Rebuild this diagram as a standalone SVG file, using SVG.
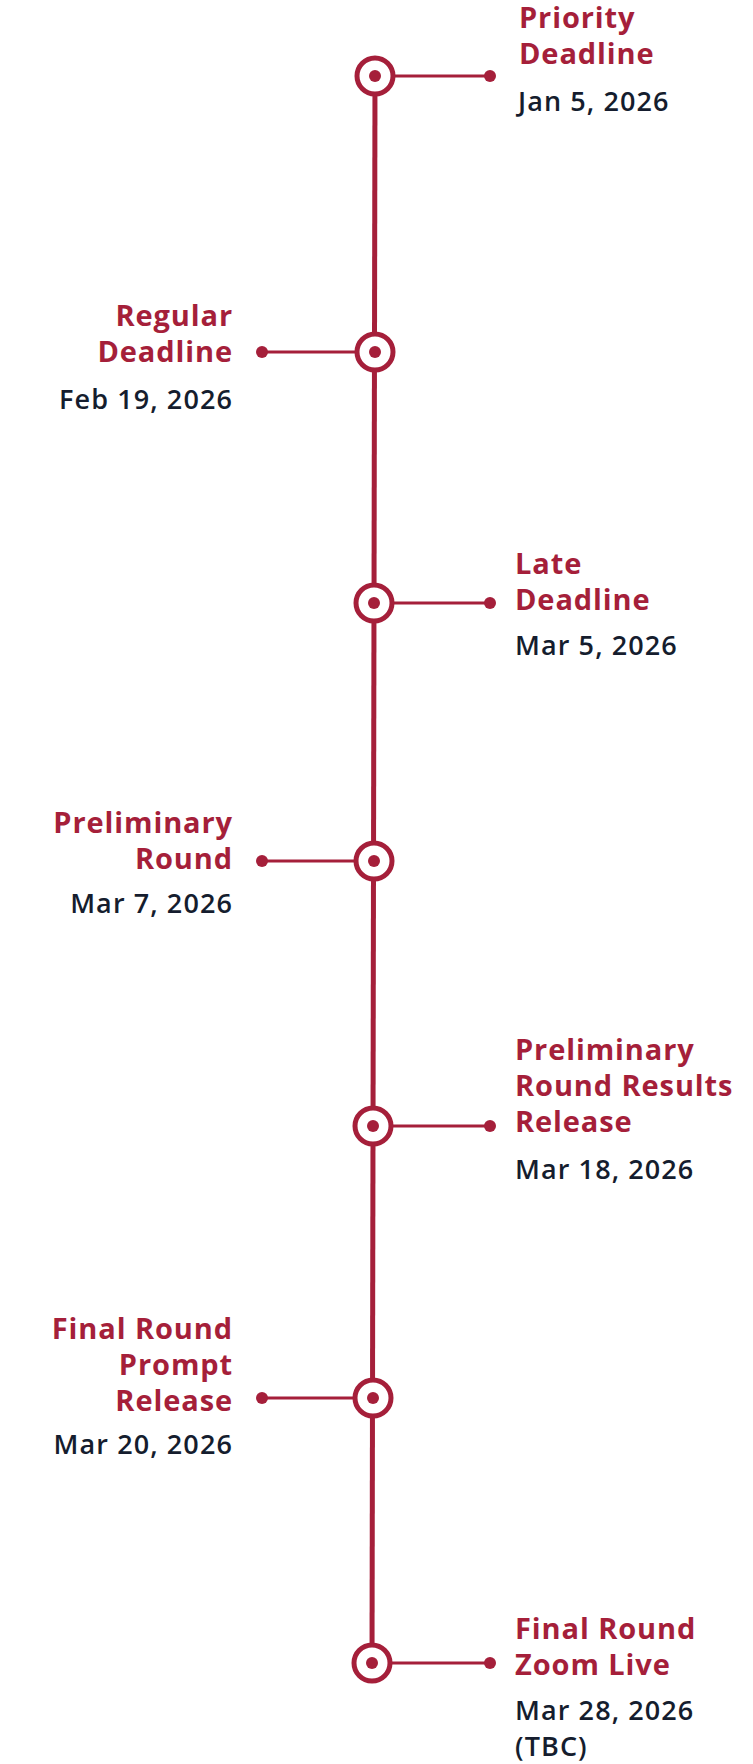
<svg xmlns="http://www.w3.org/2000/svg" width="753" height="1764" viewBox="0 0 753 1764">
<style>
.t{font-family:"Open Sans","Liberation Sans",sans-serif;font-weight:700;font-size:29px;fill:#A51F3A;letter-spacing:0.9px}
.d{font-family:"Open Sans","Liberation Sans",sans-serif;font-weight:600;font-size:27px;fill:#151D2E;letter-spacing:1.1px}
.e{text-anchor:end}
.ring{fill:#fff;stroke:#A51F3A;stroke-width:5}
.dot{fill:#A51F3A}
.con{stroke:#A51F3A;stroke-width:3;fill:none}
</style>
<rect width="753" height="1764" fill="#fff"/>
<g id="connectors">
<line x1="375" y1="76" x2="372" y2="1663" stroke="#A51F3A" stroke-width="5"/>
<line class="con" x1="375" y1="76" x2="490" y2="76"/>
<line class="con" x1="375" y1="352" x2="262" y2="352"/>
<line class="con" x1="374" y1="603" x2="490" y2="603"/>
<line class="con" x1="374" y1="861" x2="262" y2="861"/>
<line class="con" x1="373" y1="1126" x2="490" y2="1126"/>
<line class="con" x1="373" y1="1398" x2="262" y2="1398"/>
<line class="con" x1="372" y1="1663" x2="490" y2="1663"/>
<circle class="dot" cx="490" cy="76" r="6"/>
<circle class="dot" cx="262" cy="352" r="6"/>
<circle class="dot" cx="490" cy="603" r="6"/>
<circle class="dot" cx="262" cy="861" r="6"/>
<circle class="dot" cx="490" cy="1126" r="6"/>
<circle class="dot" cx="262" cy="1398" r="6"/>
<circle class="dot" cx="490" cy="1663" r="6"/>
</g>
<g id="n1">
<circle class="ring" cx="375" cy="76" r="18"/><circle class="dot" cx="375" cy="76" r="6"/>
<text class="t" x="519" y="28">Priority</text>
<text class="t" x="519" y="64">Deadline</text>
<text class="d" x="518" y="111">Jan 5, 2026</text>
</g>
<g id="n2">
<circle class="ring" cx="375" cy="352" r="18"/><circle class="dot" cx="375" cy="352" r="6"/>
<text class="t e" x="233" y="326">Regular</text>
<text class="t e" x="233" y="362">Deadline</text>
<text class="d e" x="233" y="409">Feb 19, 2026</text>
</g>
<g id="n3">
<circle class="ring" cx="374" cy="603" r="18"/><circle class="dot" cx="374" cy="603" r="6"/>
<text class="t" x="515" y="574">Late</text>
<text class="t" x="515" y="610">Deadline</text>
<text class="d" x="515" y="655">Mar 5, 2026</text>
</g>
<g id="n4">
<circle class="ring" cx="374" cy="861" r="18"/><circle class="dot" cx="374" cy="861" r="6"/>
<text class="t e" x="233" y="833">Preliminary</text>
<text class="t e" x="233" y="869">Round</text>
<text class="d e" x="233" y="913">Mar 7, 2026</text>
</g>
<g id="n5">
<circle class="ring" cx="373" cy="1126" r="18"/><circle class="dot" cx="373" cy="1126" r="6"/>
<text class="t" x="515" y="1060">Preliminary</text>
<text class="t" x="515" y="1096">Round Results</text>
<text class="t" x="515" y="1132">Release</text>
<text class="d" x="515" y="1179">Mar 18, 2026</text>
</g>
<g id="n6">
<circle class="ring" cx="373" cy="1398" r="18"/><circle class="dot" cx="373" cy="1398" r="6"/>
<text class="t e" x="233" y="1339">Final Round</text>
<text class="t e" x="233" y="1375">Prompt</text>
<text class="t e" x="233" y="1411">Release</text>
<text class="d e" x="233" y="1454">Mar 20, 2026</text>
</g>
<g id="n7">
<circle class="ring" cx="372" cy="1663" r="18"/><circle class="dot" cx="372" cy="1663" r="6"/>
<text class="t" x="515" y="1639">Final Round</text>
<text class="t" x="515" y="1675">Zoom Live</text>
<text class="d" x="515" y="1720">Mar 28, 2026</text>
<text class="d" x="515" y="1756">(TBC)</text>
</g>
</svg>
